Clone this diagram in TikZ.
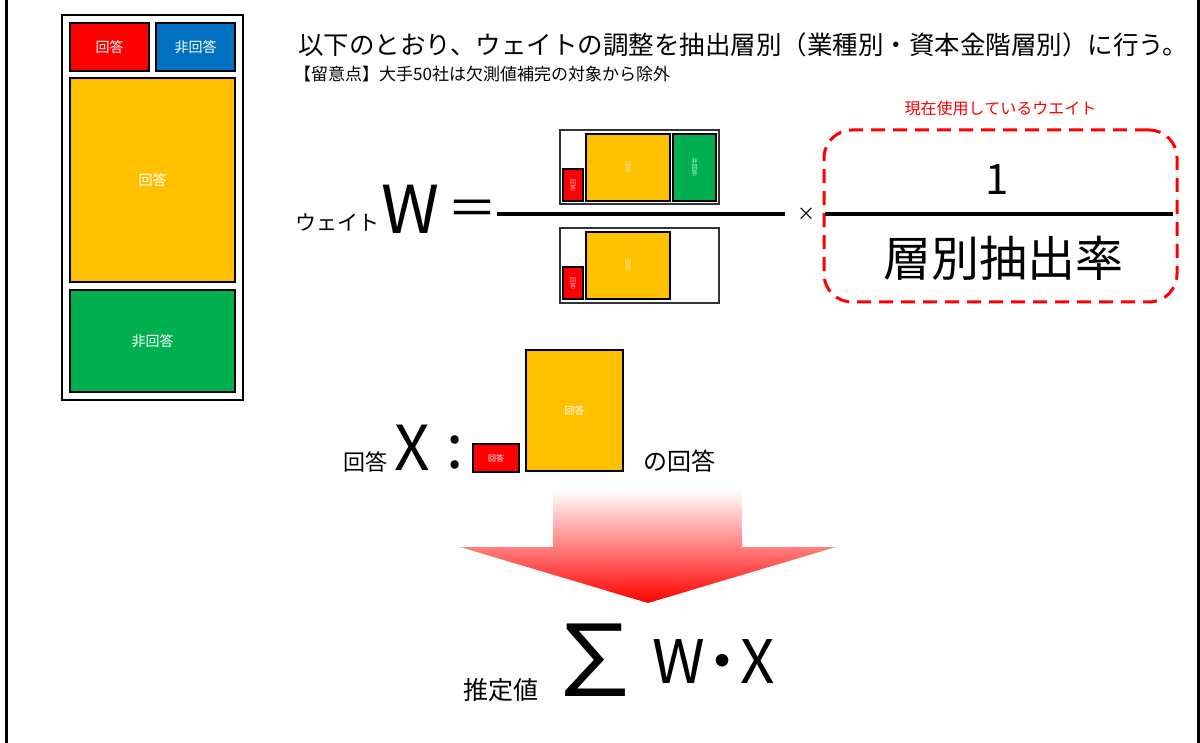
\documentclass[tikz,border=0pt]{standalone}
\usepackage{fontspec}
\setmainfont{Noto Sans CJK JP}
\usetikzlibrary{positioning}
\definecolor{ansR}{HTML}{FF0000}
\definecolor{nonB}{HTML}{0070C0}
\definecolor{ansY}{HTML}{FFC000}
\definecolor{nonG}{HTML}{00B050}
\newcommand{\fsz}[1]{\fontsize{#1}{#1}\selectfont}

\begin{document}
\begin{tikzpicture}[x=1pt,y=-1pt]
          \tikzset{Box/.style={draw, line width=1.6pt, inner sep=0pt, text=white}}
          \tikzset{Frame/.style={draw=black!80, line width=1.4pt, inner sep=0pt}}
          \tikzset{Tiny/.style={font=\fsz{6}, align=center, text opacity=.75}}
          \tikzset{Txt/.style={inner sep=0pt}}

          \useasboundingbox (0,0) rectangle (1200,743);
          \draw[line width=3pt] (6.5,0) -- (6.5,743) (1198,0) -- (1198,743);

          \node[Frame, draw=black, line width=2pt, minimum width=181, minimum height=385] (P) at (152.5,207.5) {};
          \node[Box, fill=ansR, minimum width=79, minimum height=48, font=\fsz{14}] (R) at (109.5,47) {回答};
          \node[Box, fill=nonB, minimum width=79, minimum height=48, font=\fsz{14}] (B) at (195.5,47) {非回答};
          \node[Box, fill=ansY, minimum width=165, minimum height=204, font=\fsz{14}] (Y) at (152.5,180) {回答};
          \node[Box, fill=nonG, minimum width=165, minimum height=102, font=\fsz{14}] (G) at (152.5,341) {非回答};

          \node[Txt, anchor=west, font=\fsz{25.5}] (T) at (298,45) {以下のとおり、ウェイトの調整を抽出層別（業種別・資本金階層別）に行う。};
          \node[Txt, anchor=west, font=\fsz{17}] (S) at (294,74) {【留意点】大手50社は欠測値補完の対象から除外};

          \node[Txt, anchor=west, font=\fsz{21}] (Wk) at (295,222) {ウェイト};
          \node[Txt, anchor=west, font=\fsz{66}] (W) at (381,209) {W};
          \node[Txt, font=\fsz{50}] (Eq) at (472,213) {＝};
          \draw[line width=4pt] (497,214) -- (785,214);

          \node[Frame, minimum width=159, minimum height=74] (N) at (639.5,167) {};
          \node[Box, fill=ansR, minimum width=20, minimum height=32, Tiny] (NR) at (573,185) {回\\答};
          \node[Box, fill=ansY, minimum width=84, minimum height=67, Tiny] (NY) at (628,167.5) {回\\答};
          \node[Box, fill=nonG, minimum width=43, minimum height=67, Tiny] (NG) at (694.5,167.5) {非\\回\\答};

          \node[Frame, minimum width=159, minimum height=75] (D) at (639.5,265.5) {};
          \node[Box, fill=ansR, minimum width=20, minimum height=32, Tiny] (DR) at (573,283) {回\\答};
          \node[Box, fill=ansY, minimum width=84, minimum height=67, Tiny] (DY) at (628,265.5) {回\\答};

          \node[Txt, font=\fsz{18}] (M) at (806,214) {×};
          \node[draw=ansR, line width=3pt, dash pattern=on 14pt off 8pt, rounded corners=28pt, minimum width=353, minimum height=172] (C) at (1000.5,216) {};
          \node[Txt, above=12pt of C, text=ansR, font=\fsz{16}] (Cl) {現在使用しているウエイト};
          \draw[line width=3.5pt] (825,214) -- (1173,214);
          \node[Txt, font=\fsz{42}] (One) at (997,180) {1};
          \node[Txt, font=\fsz{48}] (Rate) at (1003,258) {層別抽出率};

          \node[Txt, anchor=west, font=\fsz{22}] (Xk) at (343,462) {回答};
          \node[Txt, anchor=west, font=\fsz{62}] (X) at (394,448) {X};
          \node[Txt, font=\fsz{62}] (Co) at (455,452) {:};
          \node[Box, fill=ansR, minimum width=46, minimum height=28, font=\fsz{8}] (XR) at (496,458) {回答};
          \node[Box, fill=ansY, minimum width=97, minimum height=121, font=\fsz{10}] (XY) at (574.5,410.5) {回答};
          \node[Txt, anchor=west, font=\fsz{24}] (Xn) at (643,461) {の回答};

          \shade[top color=white, middle color=ansR!22, bottom color=ansR] (553,490) -- (742,490) -- (742,547) -- (836,547) -- (648,603) -- (460,547) -- (553,547) -- cycle;

          \node[Txt, anchor=west, font=\fsz{25}] (E) at (463,690) {推定値};
          \node[Txt, font=\fsz{100}] (Sum) at (595,660) {∑};
          \node[Txt, anchor=west, font=\fsz{60}] (WX) at (652,662) {W\hspace{-.2em}・\hspace{-.2em}X};
        \end{tikzpicture}
\end{document}
